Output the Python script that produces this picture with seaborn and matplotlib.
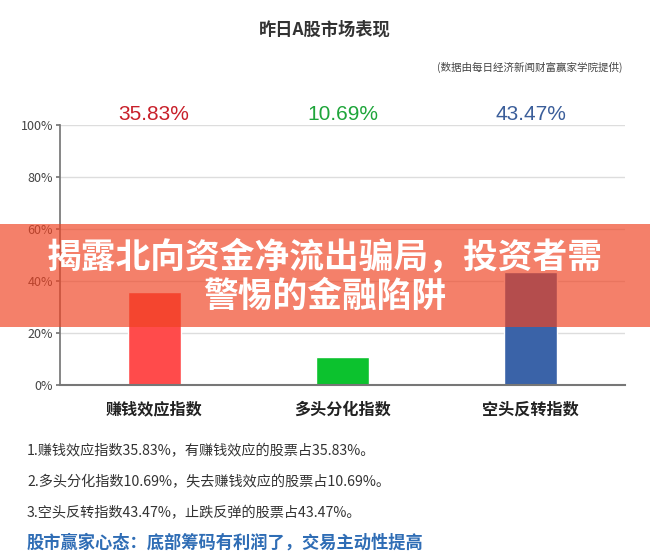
import matplotlib
matplotlib.use("Agg")
import matplotlib.pyplot as plt
import seaborn as sns
import pandas as pd
from matplotlib.patches import Rectangle

categories = ["赚钱效应指数", "多头分化指数", "空头反转指数"]
values = [35.83, 10.69, 43.47]
bar_colors = ["#FF4B4B", "#0CC22E", "#3A63A8"]
label_colors = ["#C8202A", "#1EA53A", "#3B5E9A"]
yticks = [0, 20, 40, 60, 80, 100]
notes = [
    "1.赚钱效应指数35.83%，有赚钱效应的股票占35.83%。",
    "2.多头分化指数10.69%，失去赚钱效应的股票占10.69%。",
    "3.空头反转指数43.47%，止跌反弹的股票占43.47%。",
]
headline = "股市赢家心态：底部筹码有利润了，交易主动性提高"
banner = "揭露北向资金净流出骗局，投资者需\n警惕的金融陷阱"

sns.set_theme(style="white")
plt.rcParams['font.family'] = ['Noto Sans CJK SC', 'DejaVu Sans']

W, H = 650, 553
fig = plt.figure(figsize=(6.5, 5.53), dpi=100)
fig.patch.set_facecolor("white")
ax = fig.add_axes([60/W, 1-385/H, 565/W, 260/H])

df = pd.DataFrame({"cat": categories, "val": values})
sns.barplot(data=df, x="cat", y="val", hue="cat", palette=bar_colors,
            width=0.28, legend=False, ax=ax, saturation=1)
ax.set_ylim(0, 100)
ax.set_xlim(-0.5, 2.5)
ax.set_yticks(yticks)
ax.set_yticklabels([f"{v}%" for v in yticks], fontsize=9, color="#444444")
ax.set_xlabel("")
ax.set_ylabel("")
for lbl in ax.get_xticklabels():
    lbl.set_fontsize(11.6)
    lbl.set_fontweight("bold")
    lbl.set_color("#222222")
ax.yaxis.grid(True, color="#dddddd", linewidth=1)
ax.set_axisbelow(True)
for s in ["top", "right"]:
    ax.spines[s].set_visible(False)
ax.spines["left"].set_color("#777777")
ax.spines["bottom"].set_color("#777777")
ax.spines["bottom"].set_linewidth(1.5)
ax.tick_params(axis="y", left=True, length=3, color="#777777", pad=2)
ax.tick_params(axis="x", bottom=False, pad=6)

for i, (v, c) in enumerate(zip(values, label_colors)):
    ax.text(i, 104, f"{v:.2f}%", ha="center", va="center", fontsize=15,
            color=c, family=["Liberation Sans", "DejaVu Sans"], clip_on=False)

fig.text(325/W, 1-30/H, "昨日A股市场表现", ha="center", va="center",
         fontsize=12.4, fontweight="bold", color="#333333")
fig.text(622/W, 1-67/H, "(数据由每日经济新闻财富赢家学院提供)", ha="right", va="center",
         fontsize=7.6, color="#444444")

for k, t in enumerate(notes):
    fig.text(27/W, 1-(451+31*k)/H, t, ha="left", va="center", fontsize=10.2, color="#333333")
fig.text(27/W, 1-543/H, headline, ha="left", va="center", fontsize=12.4,
         fontweight="bold", color="#2F6DB5")

fig.patches.append(Rectangle((0, 1-327/H), 1, 103/H, transform=fig.transFigure,
                             facecolor="#F04322", alpha=0.675, edgecolor="none", zorder=10))
fig.text(0.5, 1-277/H, banner, ha="center", va="center", fontsize=25,
         fontweight="heavy", color="white", zorder=11, linespacing=1.15)

fig.savefig("out.png", dpi=100)
